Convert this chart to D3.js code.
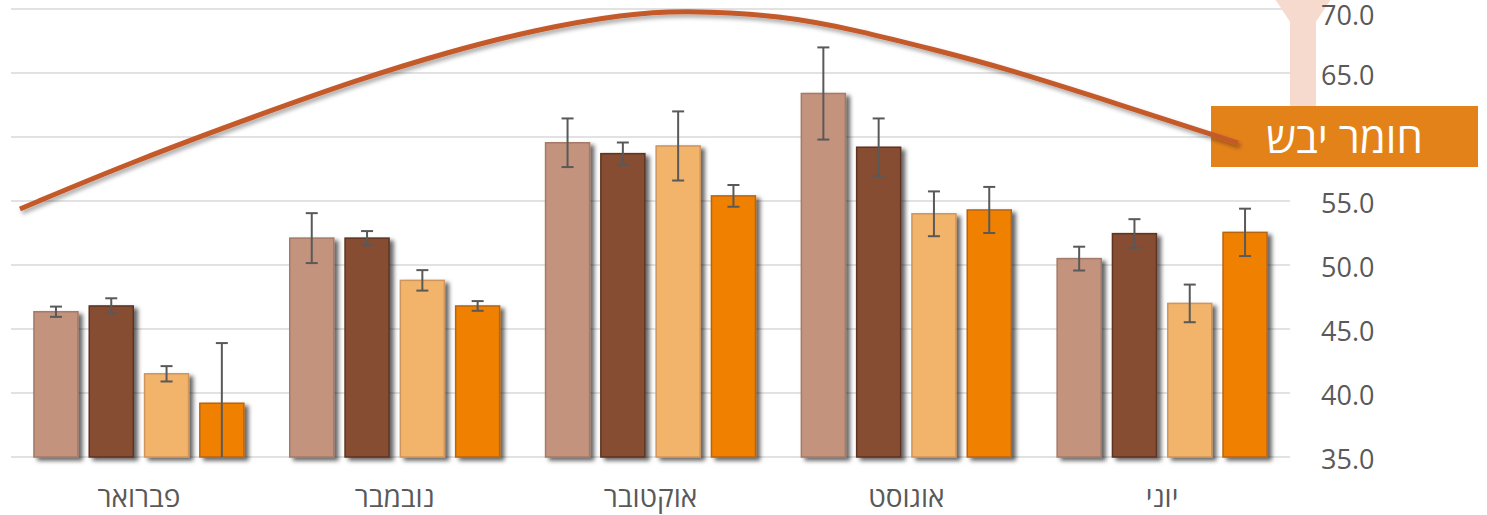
<!DOCTYPE html>
<html>
<head>
<meta charset="utf-8">
<script src="https://cdn.jsdelivr.net/npm/d3@7"></script>
<style>
  html, body { margin: 0; padding: 0; background: #ffffff; }
  svg { display: block; }
  text { font-family: "Open Sans", "DejaVu Sans", sans-serif; }
</style>
</head>
<body>
<div id="chart"></div>
<script>
// ---------- data ----------
const categories = ["פברואר", "נובמבר", "אוקטובר", "אוגוסט", "יוני"];
const seriesA = [46.35, 52.1, 59.55, 63.4, 50.5];
const seriesB = [46.8, 52.1, 58.7, 59.2, 52.45];
const seriesC = [41.5, 48.8, 59.3, 54.0, 47.0];
const seriesD = [39.2, 46.8, 55.4, 54.3, 52.55];
const errA = [0.4, 1.95, 1.9, 3.6, 0.93];
const errB = [0.6, 0.55, 0.87, 2.25, 1.13];
const errC = [0.6, 0.8, 2.7, 1.75, 1.47];
const errD = [4.7, 0.38, 0.85, 1.8, 1.85];
const yTicks = [35, 40, 45, 50, 55, 60, 65, 70];
// trend curve ("חומר יבש"): x in category-index units, y in value units
const curveX = [-0.465, -0.019, 0.505, 0.853, 1.201, 1.552, 1.900, 2.127, 2.514, 2.815, 3.112, 3.366, 3.855, 4.297];
const curveY = [54.38, 58.12, 62.0, 64.45, 66.6, 68.4, 69.6, 69.9, 69.5, 68.3, 66.8, 65.5, 62.4, 59.53];
const curveLabel = "חומר יבש";

const seriesValues = [seriesA, seriesB, seriesC, seriesD];
const seriesErrors = [errA, errB, errC, errD];
const seriesFill = ["#C3937E", "#874D33", "#F2B36A", "#F08000"];
const seriesStroke = ["#A47A68", "#5E3322", "#CF955A", "#B96510"];

// ---------- layout ----------
const W = 1487, H = 515;
const plotLeft = 11, plotRight = 1290, plotTop = 9, plotBottom = 457;
const box = { x: 1211, y: 106, w: 267, h: 61 };

const svg = d3.select("#chart").append("svg").attr("width", W).attr("height", H);
const defs = svg.append("defs");
const sh = defs.append("filter").attr("id", "barShadow")
  .attr("x", "-20%").attr("y", "-10%").attr("width", "150%").attr("height", "130%");
sh.append("feDropShadow").attr("dx", 4).attr("dy", 3).attr("stdDeviation", 2.2)
  .attr("flood-color", "#000").attr("flood-opacity", 0.6);
const sh2 = defs.append("filter").attr("id", "lineShadow")
  .attr("x", "-10%").attr("y", "-20%").attr("width", "120%").attr("height", "160%");
sh2.append("feDropShadow").attr("dx", 2).attr("dy", 3).attr("stdDeviation", 2)
  .attr("flood-color", "#000").attr("flood-opacity", 0.35);

const x0 = d3.scaleBand().domain(categories).range([plotLeft, plotRight]).paddingInner(0).paddingOuter(0);
const x1 = d3.scaleBand().domain([0, 1, 2, 3]).range([0, x0.bandwidth()]).paddingInner(0.204).paddingOuter(0.415);
const xPos = d3.scaleLinear().domain([-0.5, categories.length - 0.5]).range([plotLeft, plotRight]);
const y = d3.scaleLinear().domain([35, 70]).range([plotBottom, plotTop]);

// gridlines
svg.append("g").selectAll("line").data(yTicks).join("line")
  .attr("x1", plotLeft).attr("x2", plotRight)
  .attr("y1", d => y(d)).attr("y2", d => y(d))
  .attr("stroke", "#D9D9D9").attr("stroke-width", 1.5);

// pale arrow decoration (behind tick labels)
const ax = plotRight, aw = 26;
svg.append("path")
  .attr("d", `M${ax - 17},-4 L${ax + aw + 17},-4 L${ax + aw},${y(69)} L${ax + aw},${y(62.3)} L${ax},${y(62.3)} L${ax},${y(69)} Z`)
  .attr("fill", "#F7DACE");

// y tick labels (the one hidden under the label box is not drawn)
svg.append("g").selectAll("text")
  .data(yTicks.filter(d => y(d) < box.y - 8 || y(d) > box.y + box.h + 8))
  .join("text")
  .attr("x", 1321).attr("y", d => Math.max(y(d) + 1, 14))
  .attr("dominant-baseline", "central")
  .attr("font-size", 27).attr("fill", "#595959")
  .text(d => d3.format(".1f")(d));

// bars
const groups = svg.append("g").selectAll("g").data(categories).join("g")
  .attr("transform", d => `translate(${x0(d)},0)`);
groups.each(function(cat, ci) {
  const g = d3.select(this);
  for (let s = 0; s < 4; s++) {
    const v = seriesValues[s][ci];
    g.append("rect")
      .attr("x", x1(s)).attr("width", x1.bandwidth())
      .attr("y", y(v)).attr("height", y(35) - y(v))
      .attr("fill", seriesFill[s]).attr("stroke", seriesStroke[s]).attr("stroke-width", 1.5)
      .attr("filter", "url(#barShadow)");
  }
  for (let s = 0; s < 4; s++) {
    const v = seriesValues[s][ci], e = seriesErrors[s][ci];
    const cx = x1(s) + x1.bandwidth() / 2;
    const hi = v + e, lo = Math.max(v - e, 35);
    g.append("line").attr("x1", cx).attr("x2", cx).attr("y1", y(hi)).attr("y2", y(lo))
      .attr("stroke", "#595959").attr("stroke-width", 2);
    g.append("line").attr("x1", cx - 6).attr("x2", cx + 6).attr("y1", y(hi)).attr("y2", y(hi))
      .attr("stroke", "#595959").attr("stroke-width", 2);
    if (v - e > 35) {
      g.append("line").attr("x1", cx - 6).attr("x2", cx + 6).attr("y1", y(lo)).attr("y2", y(lo))
        .attr("stroke", "#595959").attr("stroke-width", 2);
    }
  }
});

// category labels
svg.append("g").selectAll("text").data(categories).join("text")
  .attr("x", d => x0(d) + x0.bandwidth() / 2).attr("y", 507)
  .attr("text-anchor", "middle").attr("font-size", 28).attr("fill", "#595959")
  .text(d => d);

// label box
svg.append("rect").attr("x", box.x).attr("y", box.y).attr("width", box.w).attr("height", box.h)
  .attr("fill", "#E4821A");
svg.append("text").attr("x", box.x + box.w / 2).attr("y", box.y + box.h / 2)
  .attr("text-anchor", "middle").attr("dominant-baseline", "central")
  .attr("font-size", 42).attr("fill", "#ffffff")
  .text(curveLabel);

// trend curve
const pts = curveX.map((cx, i) => [xPos(cx), y(curveY[i])]);
svg.append("path").datum(pts)
  .attr("d", d3.line().curve(d3.curveBasis))
  .attr("fill", "none").attr("stroke", "#C45A2A").attr("stroke-width", 5)
  .attr("filter", "url(#lineShadow)");
</script>
</body>
</html>
